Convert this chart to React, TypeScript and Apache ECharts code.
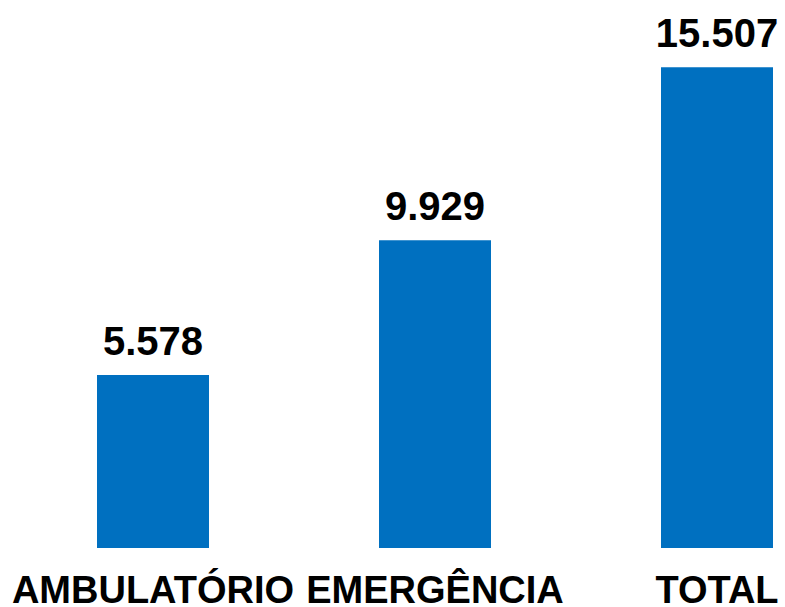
import React, { useEffect, useRef } from "react";
import * as echarts from "echarts";

const categories = ["AMBULATÓRIO", "EMERGÊNCIA", "TOTAL"];
const values = [5578, 9929, 15507];
const valueLabels = ["5.578", "9.929", "15.507"];

export default function App() {
  const ref = useRef<HTMLDivElement>(null);
  useEffect(() => {
    const chart = echarts.init(ref.current!, null, { renderer: "svg" });
    chart.setOption({
      animation: false,
      grid: { left: 12, width: 846, top: 52, bottom: 59, containLabel: false, outerBoundsMode: "none" },
      xAxis: {
        type: "category",
        data: categories,
        axisLine: { show: false },
        axisTick: { show: false },
        axisLabel: {
          interval: 0,
          margin: 23,
          color: "#000",
          fontFamily: "Liberation Sans, Arial, sans-serif",
          fontWeight: "bold",
          fontSize: 38,
          lineHeight: 38,
          hideOverlap: false,
        },
      },
      yAxis: {
        type: "value",
        min: 0,
        max: 16000,
        show: false,
        splitLine: { show: false },
      },
      series: [
        {
          type: "bar",
          data: values,
          barWidth: 112,
          itemStyle: { color: "#0070C0" },
          label: {
            show: true,
            position: "top",
            distance: 14,
            color: "#000",
            fontFamily: "Liberation Sans, Arial, sans-serif",
            fontWeight: "bold",
            fontSize: 40,
            formatter: (p: any) => valueLabels[p.dataIndex],
          },
        },
      ],
    });
    return () => chart.dispose();
  }, []);
  return <div ref={ref} style={{ width: 785, height: 607, position: "absolute", left: 0, top: 0 }} />;
}
